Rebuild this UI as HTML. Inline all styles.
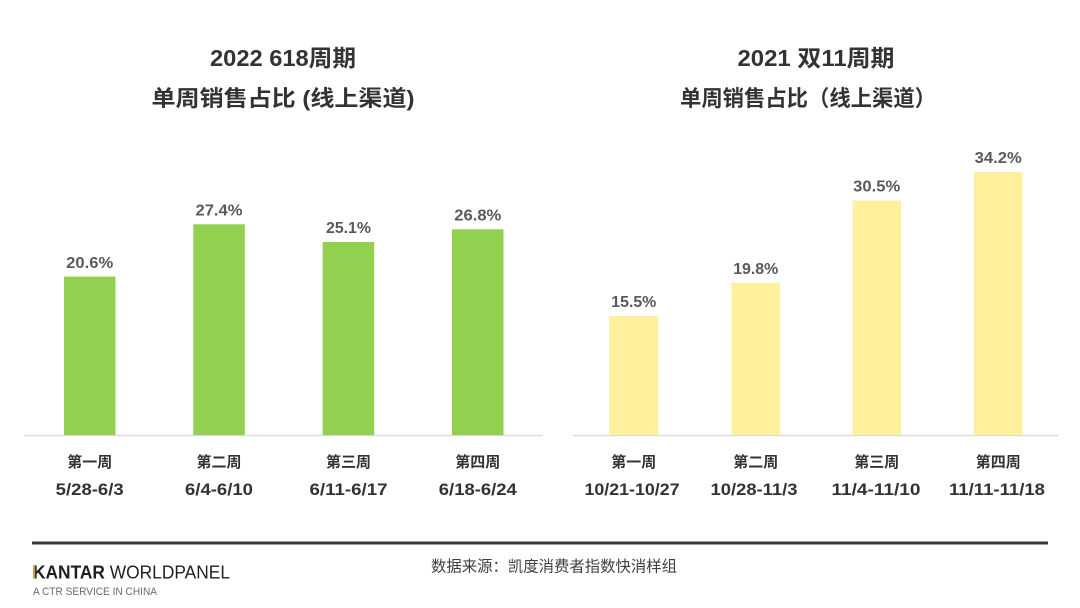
<!DOCTYPE html>
<html><head><meta charset="utf-8"><style>
html,body{margin:0;padding:0;background:#fff;}
svg{display:block;}
text{font-family:"Liberation Sans","Noto Sans CJK SC",sans-serif;}
</style></head><body>
<svg width="1080" height="608" viewBox="0 0 1080 608" xmlns="http://www.w3.org/2000/svg">
<rect width="1080" height="608" fill="#fff"/>
<!-- Titles -->
<g fill="#333" font-weight="bold" text-anchor="middle">
<text x="283" y="66" font-size="23" textLength="146" lengthAdjust="spacingAndGlyphs">2022 618周期</text>
<text x="283" y="106" font-size="22" textLength="263" lengthAdjust="spacingAndGlyphs">单周销售占比 (线上渠道)</text>
<text x="816" y="66" font-size="23" textLength="157" lengthAdjust="spacingAndGlyphs">2021 双11周期</text>
<text x="808" y="106" font-size="22" textLength="256" lengthAdjust="spacingAndGlyphs">单周销售占比（线上渠道）</text>
</g>
<!-- axes -->
<line x1="24" y1="435.5" x2="543" y2="435.5" stroke="#d9d9d9" stroke-width="1.2"/>
<line x1="573" y1="435.5" x2="1058" y2="435.5" stroke="#d9d9d9" stroke-width="1.2"/>
<!-- left bars -->
<g fill="#92d050">
<rect x="64" y="276.6" width="51.5" height="158.4"/>
<rect x="193.3" y="224.3" width="51.5" height="210.7"/>
<rect x="322.7" y="242" width="51.5" height="193"/>
<rect x="452" y="229.3" width="51.5" height="205.7"/>
</g>
<!-- right bars -->
<g fill="#fff09b">
<rect x="609.3" y="316" width="49" height="119"/>
<rect x="731.5" y="283" width="48.5" height="152"/>
<rect x="852.5" y="200.6" width="48.5" height="234.4"/>
<rect x="974" y="172" width="48.5" height="263"/>
</g>
<!-- value labels -->
<g fill="#595959" font-weight="bold" font-size="16" text-anchor="middle">
<text x="89.7" y="268" textLength="47" lengthAdjust="spacingAndGlyphs">20.6%</text>
<text x="219" y="215.5" textLength="47" lengthAdjust="spacingAndGlyphs">27.4%</text>
<text x="348.5" y="233" textLength="45" lengthAdjust="spacingAndGlyphs">25.1%</text>
<text x="477.8" y="220.5" textLength="47" lengthAdjust="spacingAndGlyphs">26.8%</text>
<text x="633.8" y="307" textLength="45" lengthAdjust="spacingAndGlyphs">15.5%</text>
<text x="755.7" y="274" textLength="45" lengthAdjust="spacingAndGlyphs">19.8%</text>
<text x="876.7" y="191.5" textLength="47" lengthAdjust="spacingAndGlyphs">30.5%</text>
<text x="998.2" y="163" textLength="47" lengthAdjust="spacingAndGlyphs">34.2%</text>
</g>
<!-- category labels -->
<g fill="#333" font-weight="bold" text-anchor="middle">
<g font-size="15">
<text x="89.7" y="467">第一周</text>
<text x="219" y="467">第二周</text>
<text x="348.5" y="467">第三周</text>
<text x="477.8" y="467">第四周</text>
<text x="633.8" y="467">第一周</text>
<text x="755.7" y="467">第二周</text>
<text x="876.7" y="467">第三周</text>
<text x="998.2" y="467">第四周</text>
</g>
<g font-size="17">
<text x="89.7" y="495" textLength="68" lengthAdjust="spacingAndGlyphs">5/28-6/3</text>
<text x="219" y="495" textLength="68" lengthAdjust="spacingAndGlyphs">6/4-6/10</text>
<text x="348.5" y="495" textLength="78" lengthAdjust="spacingAndGlyphs">6/11-6/17</text>
<text x="477.8" y="495" textLength="78" lengthAdjust="spacingAndGlyphs">6/18-6/24</text>
<text x="632" y="495" textLength="95" lengthAdjust="spacingAndGlyphs">10/21-10/27</text>
<text x="754" y="495" textLength="87" lengthAdjust="spacingAndGlyphs">10/28-11/3</text>
<text x="876" y="495" textLength="89" lengthAdjust="spacingAndGlyphs">11/4-11/10</text>
<text x="997" y="495" textLength="96" lengthAdjust="spacingAndGlyphs">11/11-11/18</text>
</g>
</g>
<!-- footer -->
<rect x="32" y="541.5" width="1016" height="3" fill="#3a3a3a"/>
<text x="33" y="578.5" font-size="18" fill="#1f1f1f" textLength="197" lengthAdjust="spacingAndGlyphs"><tspan font-weight="bold">KANTAR</tspan> WORLDPANEL</text>
<rect x="33" y="565" width="2.2" height="13.5" fill="#c8a24a"/>
<text x="33" y="595" font-size="11" fill="#6a6a6a" textLength="124" lengthAdjust="spacingAndGlyphs">A CTR SERVICE IN CHINA</text>
<text x="431" y="571.5" font-size="15.3" fill="#404040" textLength="246" lengthAdjust="spacingAndGlyphs">数据来源：凯度消费者指数快消样组</text>
</svg>
</body></html>
